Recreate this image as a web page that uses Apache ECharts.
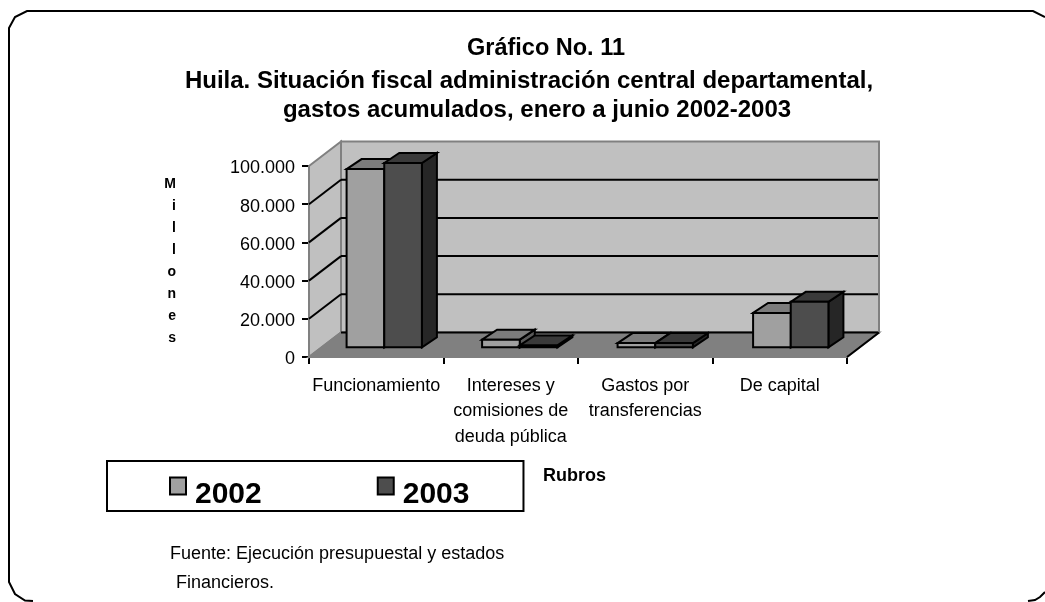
<!DOCTYPE html>
<html style="height: 100%">
<head>
    <meta charset="utf-8">
    <style type="text/css">
        #container{width: 1045px;height: 602px;}
    </style>
</head>
<body style="height: 100%; margin: 0; background: #fff">
<div id="container"></div>
<script src="https://cdn.jsdelivr.net/npm/echarts@6/dist/echarts.min.js"></script>
<script type="text/javascript">
    var titleLines = ['Gráfico No. 11', 'Huila. Situación fiscal administración central departamental,', 'gastos acumulados, enero a junio 2002-2003'];
    var categories = ['Funcionamiento', 'Intereses y\ncomisiones de\ndeuda pública', 'Gastos por\ntransferencias', 'De capital'];
    var years = ['2002', '2003'];
    var values2002 = [93300, 4000, 2200, 18000];
    var values2003 = [96500, 1000, 2200, 23800];
    var yTicks = [0, 20000, 40000, 60000, 80000, 100000];

    var font = '"Liberation Sans", Arial, sans-serif';
    // 3D look: depth of the box, and where the bars sit inside it
    var DX = 32, DY = 24.5;
    var BAR_DX = 9.5, BAR_DY = 9.7, BAR_DEPTH_X = 15, BAR_DEPTH_Y = 10, BAR_SPREAD = 1;

    function poly(points, fill, stroke) {
        return {
            type: 'polygon',
            shape: { points: points },
            style: { fill: fill, stroke: stroke || '#000', lineWidth: 2, lineJoin: 'miter' }
        };
    }
    function line(x1, y1, x2, y2, color) {
        return {
            type: 'line',
            shape: { x1: x1, y1: y1, x2: x2, y2: y2 },
            style: { stroke: color, lineWidth: 2 }
        };
    }

    function renderBox(params, api) {
        var c = params.coordSys;
        var x0 = c.x, x1 = c.x + c.width;
        var y0 = api.coord([0, 0])[1], yTop = api.coord([0, 100000])[1];
        var items = [
            poly([[x0 + DX, yTop - DY], [x1 + DX, yTop - DY], [x1 + DX, y0 - DY], [x0 + DX, y0 - DY]], '#c0c0c0', '#808080'),
            poly([[x0, yTop], [x0 + DX, yTop - DY], [x0 + DX, y0 - DY], [x0, y0]], '#c0c0c0', '#808080'),
            poly([[x0, y0], [x0 + DX, y0 - DY], [x1 + DX, y0 - DY], [x1, y0]], '#808080', '#808080')
        ];
        yTicks.forEach(function (t) {
            var y = api.coord([0, t])[1];
            if (t < 100000) items.push(line(x0 + DX, y - DY, x1 + DX - 1, y - DY, '#000'));
            if (t > 0 && t < 100000) items.push(line(x0, y, x0 + DX, y - DY, '#000'));
        });
        items.push(line(x1, y0, x1 + DX, y0 - DY, '#000'));
        return { type: 'group', children: items };
    }

    function barRenderer(offset, front, top, side) {
        return function (params, api) {
            var idx = api.value(0);
            var p = api.coord([idx, api.value(1)]);
            var base = api.coord([idx, 0])[1] - BAR_DY;
            var w = api.size([1, 0])[0] * 0.28;
            var l = p[0] + BAR_DX + (idx - 1.5) * BAR_SPREAD + offset * w;
            var r = l + w;
            var t = p[1] - BAR_DY;
            return {
                type: 'group',
                children: [
                    poly([[r, base], [r + BAR_DEPTH_X, base - BAR_DEPTH_Y], [r + BAR_DEPTH_X, t - BAR_DEPTH_Y], [r, t]], side),
                    poly([[l, t], [l + BAR_DEPTH_X, t - BAR_DEPTH_Y], [r + BAR_DEPTH_X, t - BAR_DEPTH_Y], [r, t]], top),
                    poly([[l, t], [r, t], [r, base], [l, base]], front)
                ]
            };
        };
    }

    function pairs(values) {
        return values.map(function (v, i) { return [i, v]; });
    }

    function titleLine(text, left, top, size) {
        return {
            text: text, left: left, top: top, padding: 0, textAlign: 'center',
            textStyle: { fontFamily: font, fontSize: size, fontWeight: 'bold', color: '#000', lineHeight: 28 }
        };
    }

    var myChart = echarts.init(document.getElementById('container'), null, { renderer: 'canvas' });
    var option = {
        animation: false,
        backgroundColor: '#fff',
        title: [
            titleLine(titleLines[0], 546, 35, 23.5),
            titleLine(titleLines[1], 529, 67, 24),
            titleLine(titleLines[2], 537, 96, 24)
        ],
        grid: { left: 309, top: 166, width: 538, height: 191 },
        xAxis: {
            type: 'category',
            data: categories,
            axisLine: { lineStyle: { color: '#000', width: 2 } },
            axisTick: { show: true, alignWithLabel: false, length: 7, lineStyle: { color: '#000', width: 2 } },
            axisLabel: { interval: 0, color: '#000', fontFamily: font, fontSize: 18, lineHeight: 25.5, margin: 16 }
        },
        yAxis: {
            type: 'value',
            min: 0,
            max: 100000,
            interval: 20000,
            name: 'M\ni\nl\nl\no\nn\ne\ns',
            nameLocation: 'middle',
            nameRotate: 0,
            nameGap: 133,
            nameTextStyle: { fontFamily: font, fontSize: 14, fontWeight: 'bold', color: '#000', lineHeight: 22 },
            axisLine: { show: true, lineStyle: { color: '#000', width: 2 } },
            axisTick: { show: true, length: 7, lineStyle: { color: '#000', width: 2 } },
            splitLine: { show: false },
            axisLabel: {
                color: '#000', margin: 14,
                formatter: function (v) { return '{t|' + String(v).replace(/\B(?=(\d{3})+$)/g, '.') + '}'; },
                rich: { t: { fontFamily: font, fontSize: 18, color: '#000', padding: [5, 0, 0, 0] } }
            }
        },
        legend: {
            data: years,
            left: 107,
            top: 461,
            orient: 'horizontal',
            padding: [1, 54, 1, 62],
            itemGap: 115,
            itemWidth: 16,
            itemHeight: 17,
            icon: 'rect',
            borderColor: '#000',
            borderWidth: 2,
            backgroundColor: '#fff',
            formatter: '{y|{name}}',
            textStyle: {
                rich: { y: { fontFamily: font, fontSize: 30, fontWeight: 'bold', color: '#000', lineHeight: 30, padding: [18, 0, 0, 4] } }
            }
        },
        graphic: [
            {
                type: 'polyline',
                silent: true,
                shape: { points: [[1045, 17], [1033, 11], [27, 11], [15, 17], [9, 28], [9, 582], [15, 594], [25, 600.5], [33, 601]] },
                style: { fill: 'none', stroke: '#000', lineWidth: 2 }
            },
            {
                type: 'polyline',
                silent: true,
                shape: { points: [[1028, 601], [1035, 600], [1040, 597], [1045, 592]] },
                style: { fill: 'none', stroke: '#000', lineWidth: 2 }
            },
            { type: 'text', left: 543, top: 467, style: { text: 'Rubros', fontFamily: font, fontSize: 18, fontWeight: 'bold', fill: '#000' } },
            { type: 'text', left: 170, top: 545, style: { text: 'Fuente: Ejecución presupuestal y estados', fontFamily: font, fontSize: 18, fill: '#000' } },
            { type: 'text', left: 176, top: 574, style: { text: 'Financieros.', fontFamily: font, fontSize: 18, fill: '#000' } }
        ],
        series: [
            {
                name: 'box',
                type: 'custom',
                silent: true,
                z: 1,
                renderItem: renderBox,
                data: [[0, 0]],
                encode: { x: 0, y: 1 }
            },
            {
                name: years[0],
                type: 'custom',
                z: 2,
                itemStyle: { color: '#a0a0a0', borderColor: '#000', borderWidth: 2 },
                renderItem: barRenderer(-1, '#a0a0a0', '#7c7c7c', '#5a5a5a'),
                data: pairs(values2002),
                encode: { x: 0, y: 1 }
            },
            {
                name: years[1],
                type: 'custom',
                z: 3,
                itemStyle: { color: '#4d4d4d', borderColor: '#000', borderWidth: 2 },
                renderItem: barRenderer(0, '#4d4d4d', '#3a3a3a', '#262626'),
                data: pairs(values2003),
                encode: { x: 0, y: 1 }
            }
        ]
    };
    myChart.setOption(option);
</script>
</body>
</html>
